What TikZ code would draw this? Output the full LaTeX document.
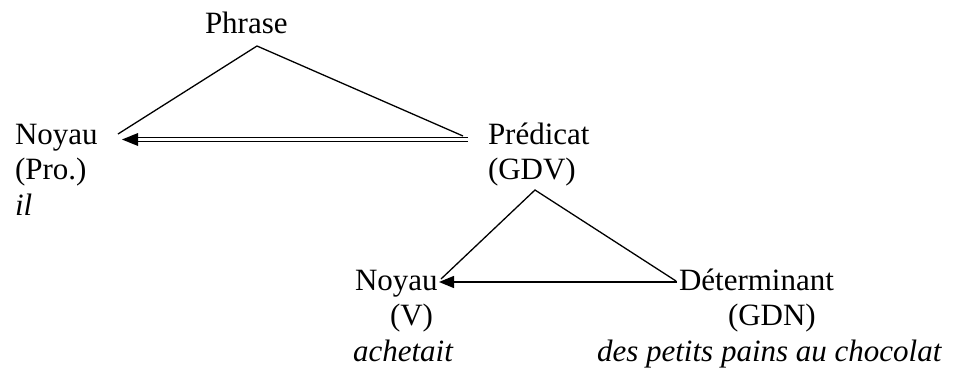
\documentclass[tikz,border=0pt]{standalone}
\usepackage{fontspec}
\setmainfont{Liberation Serif}
\usetikzlibrary{arrows.meta,calc}
\begin{document}
\begin{tikzpicture}[x=1pt,y=-1pt,
  txt/.style={anchor=base west,inner sep=0pt,outer sep=0pt,font=\fontsize{31pt}{36pt}\selectfont},
  ln/.style={line width=1.3pt,line cap=butt},
  arr/.style={ln,-{Triangle[length=15pt,width=12pt]}}]
\useasboundingbox (0,0) rectangle (953,375);
% texts
\node[txt] (phr) at (205,33) {Phrase};
\node[txt] (noy1) at (15,144) {Noyau};
\node[txt] (pro) at (15,179.5) {(Pro.)};
\node[txt] (il) at (15,215) {\textit{il}};
\node[txt] (pred) at (488,144) {Prédicat};
\node[txt] (gdv) at (488,179.5) {(GDV)};
\node[txt] (noy2) at (355,290) {Noyau};
\node[txt] (v) at (390,325.5) {(V)};
\node[txt] (ach) at (353,361) {\textit{achetait}};
\node[txt] (det) at (679,290) {Déterminant};
\node[txt] (gdn) at (728,325.5) {(GDN)};
\node[txt] (des) at (597,361) {\textit{des petits pains au chocolat}};
% coordinates
\coordinate (a1) at (257,46);
\coordinate (l1) at (118,134);
\coordinate (r1) at (463,136);
\coordinate (ds) at (468,139.5);
\coordinate (dt) at (122,139.5);
\coordinate (a2) at (535,190);
\coordinate (l2) at (441,279);
\coordinate (r2) at (676,281);
\coordinate (hs) at (677,282);
\coordinate (ht) at (439,282);
% upper triangle
\draw[ln] (l1) -- (a1) -- (r1);
\draw[ln] ($(ds)+(0,-2.3)$) -- ($(dt)+(14,-2.3)$);
\draw[ln] ($(ds)+(0,2.3)$) -- ($(dt)+(14,2.3)$);
\fill (dt) -- ($(dt)+(16,-6.5)$) -- ($(dt)+(16,6.5)$) -- cycle;
% lower triangle
\draw[ln] (l2) -- (a2) -- (r2);
\draw[arr] (hs) -- (ht);
\end{tikzpicture}
\end{document}
